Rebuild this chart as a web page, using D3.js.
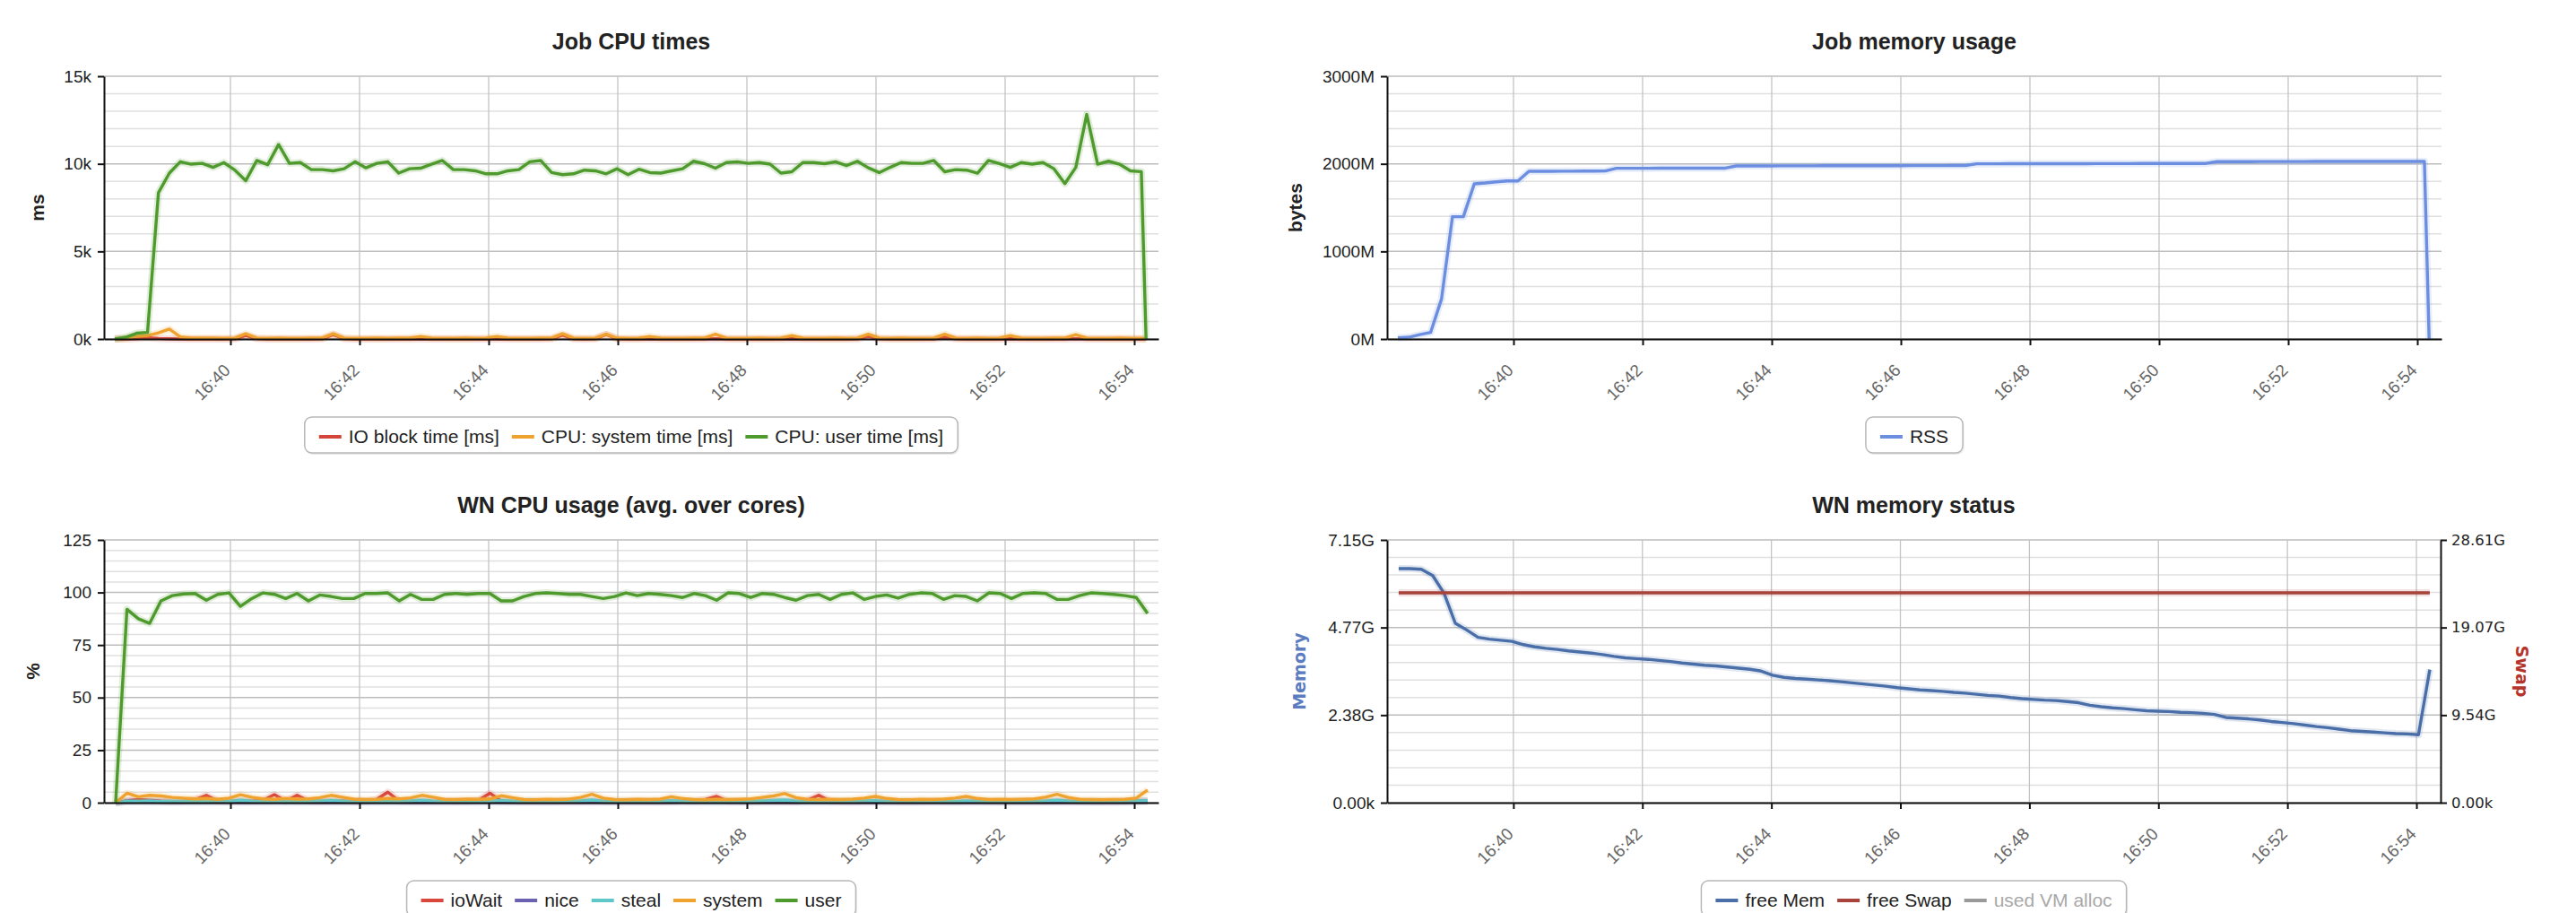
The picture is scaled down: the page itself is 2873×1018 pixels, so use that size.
<!DOCTYPE html>
<html><head><meta charset="utf-8">
<script src="https://cdn.jsdelivr.net/npm/d3@7"></script>
<style>
html,body{margin:0;padding:0;background:#fff;}
svg{display:block;}
text{font-family:"Liberation Sans",Arial,sans-serif;}
</style></head><body>
<svg id="c" width="2873" height="1018"></svg>
<script>
// ---------- time axis / sampling (seconds after 16:38:00) ----------
const axisStartSec = 2.5, axisEndSec = 982.5;
const jobStartSec = 12.5, jobStepSec = 10.15, jobEndSec = 971;   // job monitor samples
const wnStartSec = 13.3, wnStepSec = 10.54;                        // worker-node samples

// ---------- Job CPU times (ms) ----------
const cpuUser = [0,100,330,380,8350,9470,10120,9980,10030,9800,10070,9640,9040,10190,9950,11100,10030,10070,9670,9670,9600,9720,10120,9770,10030,10120,9470,9720,9750,9980,10190,9670,
 9670,9600,9430,9430,9600,9670,10120,10190,9500,9380,9430,9640,9600,9430,9720,9380,9690,9500,9470,9600,9720,10150,10010,9750,10070,10120,10030,10070,9980,9470,9550,10070,
 10070,10010,10120,9900,10150,9770,9500,9800,10070,10030,10030,10190,9550,9670,9640,9470,10190,10010,9800,10070,9980,10070,9720,8870,9800,12820,9980,10150,9980,9600,9550,0];
const cpuSystem = [0,50,150,200,350,570,120,60,50,50, 40,60,300,60,40,50,40,40,50,60, 300,60,40,40,50,40,50,60,150,50,
 40,40,50,40,60,150,50,40,40,50, 60,300,60,40,60,280,50,40,50,150, 50,40,40,50,60,280,60,40,40,50,
 40,60,200,50,40,40,50,40,60,280, 60,40,50,40,40,60,280,60,40,50, 40,60,200,50,40,40,50,60,250,60, 40,40,50,40,40,0];
const ioBlock = [0,0,20,80,30,10,0,0,0,0, 0,10,200,20,0,0,0,0,0,10, 250,20,0,0,0,0,0,0,10,0,
 0,0,0,0,0,10,0,0,0,0, 10,220,10,0,10,260,10,0,0,0, 0,0,0,0,0,20,0,0,0,0,
 0,0,10,0,0,0,0,0,10,150, 10,0,0,0,0,0,100,10,0,0, 0,0,10,0,0,0,0,0,20,0, 0,0,0,0,0,0];

// ---------- Job memory usage (MB) ----------
const rss = [13,20,50,75,457,1396,1396,1772,1782,1795, 1805,1805,1915,1915,1915,1916,1916,1917,1917,1918,
 1949,1949,1949,1949,1950,1950,1950,1950,1951,1951, 1951,1976,1976,1976,1976,1977,1977,1977,1977,1978,
 1978,1978,1978,1979,1979,1979,1979,1980,1980,1980, 1980,1981,1981,2000,2000,2000,2001,2001,2001,2001,
 2002,2002,2002,2002,2003,2003,2003,2003,2004,2004, 2004,2004,2005,2005,2005,2025,2025,2025,2025,2026,
 2026,2026,2026,2026,2027,2027,2027,2027,2027,2028, 2028,2028,2028,2028,2028,0];

// ---------- WN CPU usage (%) ----------
const wnUser = [0,92,87.5,85.3,96,98.5,99.3,99.5,96.3,99.1, 99.8,93.4,97.1,99.8,99.1,97.1,99.5,96,98.8,98.1,
 97.1,97.1,99.5,99.5,99.8,96,99.1,96.7,96.7,99.1, 99.5,99.1,99.5,99.5,96,96,98.1,99.5,99.8,99.5,
 99.1,99.1,98.1,97.1,98.1,99.8,98.5,99.5, 99.1,98.5,97.6,99.5,98.5,96.3,99.8,99.5,97.6,99.5,
 99.1,97.6,96.3,98.5,99.1,96.7,99.1,99.8,96.7,98.1, 98.8,97.3,99.1,99.8,99.5,96.7,98.5,98.1,96,99.8,
 99.5,97.1,99.5,99.8,99.5,96.7,96.7,98.5,99.8,99.5, 99.1,98.5,97.6,90];
const wnSystem = [0,4.5,2.8,3.5,3.2,2.5,2.2,1.8,2.0,1.6, 2.2,3.8,2.6,1.8,1.6,2.0,1.7,1.8,2.4,3.5,
 2.6,1.7,1.5,1.6,2.0,1.8,2.3,3.5,2.6,1.6, 1.5,1.7,1.6,1.8,3.3,2.4,1.5,1.4,1.6,1.5,
 1.7,2.5,4.0,2.2,1.5,1.4,1.6,1.5,1.7,2.8, 2.0,1.5,1.4,1.6,1.5,1.6,1.8,2.5,3.2,4.3,
 2.4,1.6,1.5,1.6,1.5,1.7,2.2,3.0,2.0,1.5, 1.4,1.6,1.5,1.7,2.2,3.0,2.0,1.5,1.6,1.5,
 1.6,1.8,2.6,4.0,2.5,1.6,1.5,1.4,1.5,1.6, 2.2,6.0];
const wnIoWait = [0,1.0,1.5,1.2,0.8,0.6,0.7,1.5,3.5,0.8, 0.6,0.9,0.7,1.2,3.8,0.8,3.5,0.9,0.6,0.7,
 0.8,0.6,0.7,1.5,5.0,0.8,0.6,0.7,0.6,0.8, 0.6,0.7,1.2,4.5,0.8,0.6,0.7,0.6,0.5,0.6,
 0.7,0.6,0.8,0.6,0.5,0.6,0.7,0.6,0.5,0.6, 0.7,0.8,1.5,3.0,0.7,0.6,0.5,0.6,0.7,0.6,
 0.5,1.2,3.5,0.8,0.6,0.5,0.6,0.7,0.6,0.5, 0.6,0.5,0.7,0.6,0.5,0.6,0.7,0.6,0.5,0.6,
 0.7,0.6,0.5,0.6,0.7,0.6,0.5,0.6,0.5,0.6, 0.8,1.0];
const wnNice = [0,0.5,0.4,0.3,0.3,0.2,0.3,0.2,0.3,0.2, 0.3,0.2,0.2,0.3,0.2,0.3,0.2,0.2,0.3,0.2,
 0.2,0.3,0.2,0.3,0.2,0.2,0.3,0.2,0.3,0.2, 0.2,0.3,0.2,0.2,0.3,0.2,0.3,0.2,0.2,0.3,
 0.2,0.2,0.3,0.2,0.3,0.2,0.2,0.3,0.2,0.2, 0.3,0.2,0.3,0.2,0.2,0.3,0.2,0.2,0.3,0.2,
 0.2,0.3,0.2,0.2,0.3,0.2,0.3,0.2,0.2,0.3, 0.2,0.2,0.3,0.2,0.3,0.2,0.2,0.3,0.2,0.2,
 0.3,0.2,0.2,0.3,0.2,0.3,0.2,0.2,0.3,0.2, 0.3,0.6];
const wnSteal = [0,0.8,0.7,0.9,0.6,0.7,0.8,0.6,0.7,0.9, 0.7,1.2,0.8,0.6,0.7,0.8,0.6,0.7,0.9,1.1,
 0.8,0.6,0.7,0.6,0.8,0.7,0.9,1.2,0.8,0.6, 0.7,0.6,0.8,0.7,1.1,0.8,0.6,0.7,0.6,0.7,
 0.8,0.9,1.3,0.8,0.6,0.7,0.6,0.8,0.7,1.0, 0.8,0.6,0.7,0.6,0.7,0.8,0.6,0.9,1.1,1.3,
 0.8,0.6,0.7,0.6,0.8,0.7,0.9,1.0,0.7,0.6, 0.7,0.6,0.8,0.7,0.6,0.9,0.8,0.6,0.7,0.6,
 0.7,0.8,0.9,1.2,0.8,0.6,0.7,0.6,0.7,0.8, 0.9,1.0];

// ---------- WN memory status (GB) ----------
const freeMem = [6.37,6.37,6.35,6.18,5.7,4.88,4.7,4.5,4.45,4.42, 4.39,4.3,4.24,4.2,4.17,4.13,4.1,4.07,4.03,3.98,
 3.94,3.92,3.9,3.87,3.84,3.8,3.77,3.74,3.72,3.69, 3.66,3.63,3.58,3.47,3.41,3.38,3.36,3.34,3.32,3.29,
 3.26,3.23,3.2,3.17,3.13,3.1,3.07,3.05,3.03,3.0, 2.98,2.95,2.92,2.9,2.86,2.83,2.81,2.79,2.78,2.75,
 2.72,2.65,2.61,2.58,2.56,2.53,2.5,2.49,2.48,2.46, 2.45,2.43,2.4,2.32,2.3,2.28,2.25,2.21,2.18,2.15,
 2.11,2.07,2.04,2.0,1.96,1.94,1.92,1.9,1.88,1.87, 1.85,3.62];
const freeSwap = [22.85,22.85,22.85,22.85,22.85,22.85,22.85,22.85,22.85,22.85, 22.85,22.85,22.85,22.85,22.85,22.85,22.85,22.85,22.85,22.85,
 22.85,22.85,22.85,22.85,22.85,22.85,22.85,22.85,22.85,22.85, 22.85,22.85,22.85,22.85,22.85,22.85,22.85,22.85,22.85,22.85,
 22.85,22.85,22.85,22.85,22.85,22.85,22.85,22.85,22.85,22.85, 22.85,22.85,22.85,22.85,22.85,22.85,22.85,22.85,22.85,22.85,
 22.85,22.85,22.85,22.85,22.85,22.85,22.85,22.85,22.85,22.85, 22.85,22.85,22.85,22.85,22.85,22.85,22.85,22.85,22.85,22.85,
 22.85,22.85,22.85,22.85,22.85,22.85,22.85,22.85,22.85,22.85, 22.85,22.85];

// ---------- tick labels ----------
const cpuTicks = [0,5000,10000,15000], cpuTickLabels = ["0k","5k","10k","15k"];
const rssTicks = [0,1000,2000,3000], rssTickLabels = ["0M","1000M","2000M","3000M"];
const pctTicks = [0,25,50,75,100,125], pctTickLabels = ["0","25","50","75","100","125"];
const memMax = 7.15, memTickLabels = ["0.00k","2.38G","4.77G","7.15G"];
const swapMax = 28.61, swapTickLabels = ["0.00k","9.54G","19.07G","28.61G"];

// ---------- drawing ----------
const svg = d3.select('#c');
const base = new Date(2015, 5, 1, 16, 38, 0).getTime();
const T = s => new Date(base + s * 1000);
const jobTimes = cpuUser.map((v, i) => i < cpuUser.length - 1 ? T(jobStartSec + i * jobStepSec) : T(jobEndSec));
const wnTimes = wnUser.map((v, i) => T(wnStartSec + i * wnStepSec));
const fmtTime = d3.timeFormat('%H:%M');

function drawPanel(p) {
  const g = svg.append('g');
  const x = d3.scaleTime().domain([T(axisStartSec), T(axisEndSec)]).range([p.left, p.right]);
  const y = d3.scaleLinear().domain([0, p.yMax]).range([p.bottom, p.top]);
  const yR = p.rMax ? d3.scaleLinear().domain([0, p.rMax]).range([p.bottom, p.top]) : null;
  const nMinor = (p.ticks.length - 1) * 5;
  const minor = d3.range(nMinor + 1).map(k => p.yMax * k / nMinor);
  g.append('g').selectAll('line').data(minor).join('line')
    .attr('x1', p.left).attr('x2', p.right)
    .attr('y1', d => y(d)).attr('y2', d => y(d))
    .attr('stroke', (d, k) => k % 5 === 0 ? '#bdbdbd' : '#e0e0e0').attr('stroke-width', 1.5);
  const xt = x.ticks(d3.timeMinute.every(2));
  g.append('g').selectAll('line').data(xt).join('line')
    .attr('x1', d => x(d)).attr('x2', d => x(d)).attr('y1', p.top).attr('y2', p.bottom)
    .attr('stroke', '#c4c4c4').attr('stroke-width', 1.3);

  p.series.forEach(s => {
    const ys = s.right ? yR : y;
    const pts = s.values.map((v, i) => [s.times[i], v]);
    const line = d3.line().x(d => x(d[0])).y(d => ys(d[1]));
    g.append('path').attr('d', line(pts)).attr('fill', 'none').attr('stroke', s.color)
      .attr('stroke-width', 8).attr('stroke-opacity', 0.16).attr('stroke-linejoin', 'round');
    g.append('path').attr('d', line(pts)).attr('fill', 'none').attr('stroke', s.color)
      .attr('stroke-width', 3.4).attr('stroke-linejoin', 'round');
  });

  // left axis
  const ya = g.append('g').attr('transform', `translate(${p.left},0)`)
    .call(d3.axisLeft(y).tickValues(p.ticks.map(t => t)).tickFormat((d, i) => p.labels[i])
      .tickSize(7).tickSizeOuter(0).tickPadding(7));
  ya.select('.domain').attr('stroke', '#111').attr('stroke-width', 2);
  ya.selectAll('.tick line').attr('stroke', '#111').attr('stroke-width', 2);
  ya.selectAll('.tick text').style('font-size', '19px').attr('fill', '#222')
    .style('font-family', '"Liberation Sans", Arial, sans-serif');

  if (yR) {
    const ra = g.append('g').attr('transform', `translate(${p.right},0)`)
      .call(d3.axisRight(yR).tickValues(p.rTicks).tickFormat((d, i) => p.rLabels[i])
        .tickSize(7).tickSizeOuter(0).tickPadding(5));
    ra.select('.domain').attr('stroke', '#111').attr('stroke-width', 2);
    ra.selectAll('.tick line').attr('stroke', '#111').attr('stroke-width', 2);
    ra.selectAll('.tick text').style('font-size', '16.5px').attr('fill', '#222')
      .style('font-family', '"DejaVu Sans", Verdana, sans-serif');
  }

  // bottom axis
  const xa = g.append('g').attr('transform', `translate(0,${p.bottom})`)
    .call(d3.axisBottom(x).tickValues(xt).tickFormat('').tickSize(7).tickSizeOuter(0));
  xa.select('.domain').attr('stroke', '#111').attr('stroke-width', 2);
  xa.selectAll('.tick line').attr('stroke', '#111').attr('stroke-width', 2);
  g.append('g').selectAll('text').data(xt).join('text')
    .attr('transform', d => `translate(${x(d) + 1},${p.bottom + 36}) rotate(-45)`)
    .attr('text-anchor', 'end').style('font-size', '19px').attr('fill', '#666')
    .text(d => fmtTime(d));

  // title
  g.append('text').attr('x', (p.left + p.right) / 2).attr('y', p.top - 30)
    .attr('text-anchor', 'middle').style('font-size', '25px').style('font-weight', 'bold')
    .attr('fill', '#222').text(p.title);

  // axis titles
  g.append('text').attr('transform', `translate(${p.left - p.yTitleOff},${(p.top + p.bottom) / 2}) rotate(-90)`)
    .attr('text-anchor', 'middle').style('font-size', p.yTitleSize || '21px').style('font-weight', 'bold')
    .style('font-family', p.yTitleFont || '"Liberation Sans", Arial, sans-serif')
    .attr('fill', p.yTitleColor || '#222').text(p.yTitle);
  if (p.rTitle) {
    g.append('text').attr('transform', `translate(${p.right + 84},${(p.top + p.bottom) / 2}) rotate(90)`)
      .attr('text-anchor', 'middle').style('font-size', '19px').style('font-weight', 'bold')
      .style('font-family', '"DejaVu Sans", Verdana, sans-serif')
      .attr('fill', '#b5342b').text(p.rTitle);
  }

  // legend
  const lg = svg.append('g');
  const shadow = lg.append('rect'), box = lg.append('rect');
  const items = lg.append('g');
  let pos = 0;
  p.legend.forEach(it => {
    items.append('line').attr('x1', pos).attr('x2', pos + 25).attr('y1', 0).attr('y2', 0)
      .attr('stroke', it.color).attr('stroke-width', 4);
    const t = items.append('text').attr('x', pos + 33).attr('y', 7).style('font-size', '21px')
      .attr('fill', it.disabled ? '#a8a8a8' : '#222').text(it.name);
    pos += 33 + t.node().getComputedTextLength() + 14;
  });
  const bw = pos - 14 + 32, bx = (p.left + p.right) / 2 - bw / 2, by = p.bottom + 87;
  shadow.attr('x', bx + 1.5).attr('y', by + 2).attr('width', bw).attr('height', 40).attr('rx', 8)
    .attr('fill', '#000').attr('opacity', 0.08);
  box.attr('x', bx).attr('y', by).attr('width', bw).attr('height', 40).attr('rx', 8)
    .attr('fill', '#fff').attr('stroke', '#b8b8b8').attr('stroke-width', 1.5);
  items.attr('transform', `translate(${bx + 16},${by + 22})`);
}

drawPanel({
  title: 'Job CPU times', left: 116, right: 1292, top: 85, bottom: 378,
  yMax: 15000, ticks: cpuTicks, labels: cpuTickLabels, yTitle: 'ms', yTitleOff: 67,
  series: [
    {values: ioBlock, times: jobTimes, color: '#d3443a'},
    {values: cpuSystem, times: jobTimes, color: '#f0a22e'},
    {values: cpuUser, times: jobTimes, color: '#4e9a2c'}
  ],
  legend: [
    {name: 'IO block time [ms]', color: '#d3443a'},
    {name: 'CPU: system time [ms]', color: '#f0a22e'},
    {name: 'CPU: user time [ms]', color: '#4e9a2c'}
  ]
});
drawPanel({
  title: 'Job memory usage', left: 1547, right: 2723, top: 85, bottom: 378,
  yMax: 3000, ticks: rssTicks, labels: rssTickLabels, yTitle: 'bytes', yTitleOff: 95,
  series: [{values: rss, times: jobTimes, color: '#6b8ee0'}],
  legend: [{name: 'RSS', color: '#6b8ee0'}]
});
drawPanel({
  title: 'WN CPU usage (avg. over cores)', left: 116, right: 1292, top: 602, bottom: 895,
  yMax: 125, ticks: pctTicks, labels: pctTickLabels, yTitle: '%', yTitleOff: 72,
  series: [
    {values: wnIoWait, times: wnTimes, color: '#d9463c'},
    {values: wnNice, times: wnTimes, color: '#6a62b0'},
    {values: wnSteal, times: wnTimes, color: '#5ec8c8'},
    {values: wnSystem, times: wnTimes, color: '#f0a22e'},
    {values: wnUser, times: wnTimes, color: '#4e9a2c'}
  ],
  legend: [
    {name: 'ioWait', color: '#d9463c'}, {name: 'nice', color: '#6a62b0'},
    {name: 'steal', color: '#5ec8c8'}, {name: 'system', color: '#f0a22e'},
    {name: 'user', color: '#4e9a2c'}
  ]
});
drawPanel({
  title: 'WN memory status', left: 1547, right: 2722, top: 602, bottom: 895,
  yMax: memMax, ticks: [0, memMax / 3, memMax * 2 / 3, memMax], labels: memTickLabels,
  rMax: swapMax, rTicks: [0, swapMax / 3, swapMax * 2 / 3, swapMax], rLabels: swapTickLabels,
  yTitle: 'Memory', yTitleOff: 91, yTitleColor: '#5b7dbf', yTitleSize: '19px',
  yTitleFont: '"DejaVu Sans", Verdana, sans-serif', rTitle: 'Swap',
  series: [
    {values: freeMem, times: wnTimes, color: '#4a6ea8'},
    {values: freeSwap, times: wnTimes, color: '#a8433c', right: true}
  ],
  legend: [
    {name: 'free Mem', color: '#4a6ea8'}, {name: 'free Swap', color: '#a8433c'},
    {name: 'used VM alloc', color: '#999', disabled: true}
  ]
});
</script></body></html>
